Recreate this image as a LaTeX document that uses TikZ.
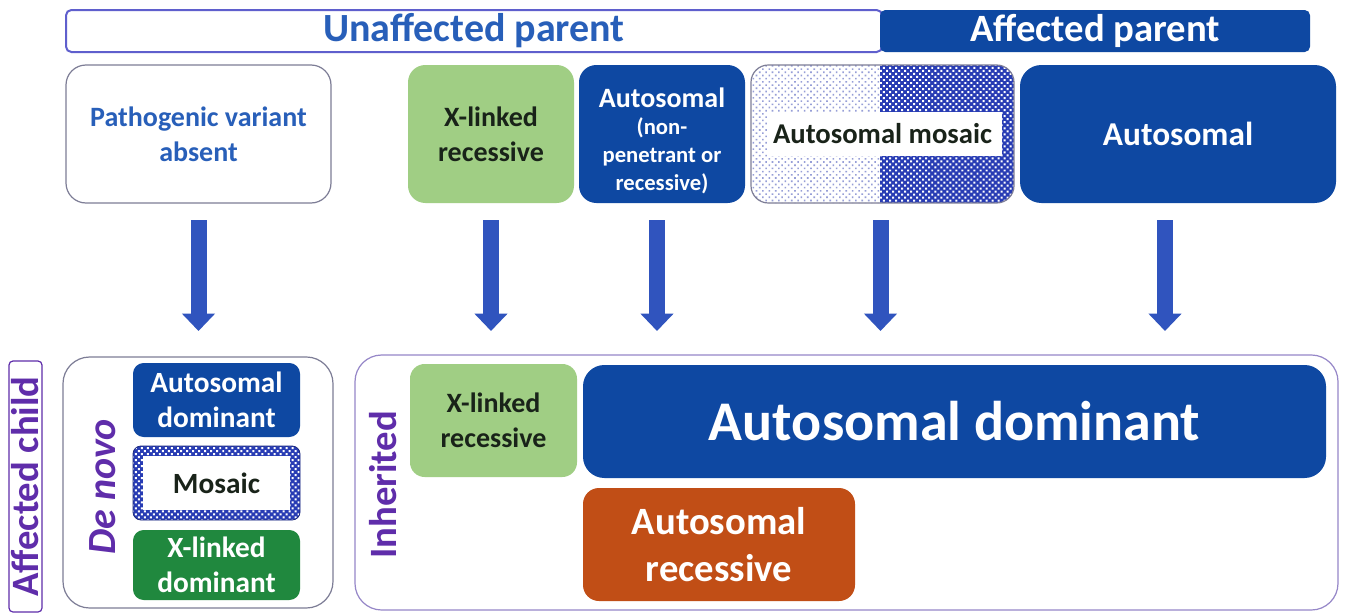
\documentclass[tikz,border=0pt]{standalone}
\usepackage{fontspec}
\setmainfont{Carlito}
\usetikzlibrary{arrows.meta,patterns,patterns.meta}
\definecolor{dblue}{RGB}{14,72,162}
\definecolor{lgreen}{RGB}{160,206,132}
\definecolor{dgreen}{RGB}{32,136,62}
\definecolor{orng}{RGB}{193,78,22}
\definecolor{hdrline}{RGB}{95,95,205}
\definecolor{hdrtext}{RGB}{40,95,185}
\definecolor{purp}{RGB}{95,45,170}
\definecolor{arrblue}{RGB}{48,84,190}
\definecolor{grayline}{RGB}{125,125,150}
\definecolor{inhline}{RGB}{150,135,200}
\definecolor{mosblue}{RGB}{40,60,180}
\definecolor{mosdot}{RGB}{150,158,215}
\definecolor{darktext}{RGB}{25,35,25}
\newcommand\fsz[2]{\fontsize{#1pt}{#2pt}\selectfont\bfseries}
\newcommand\mybox[7]{\node[#6, minimum width={(#4-#2)*0.75pt}, minimum height={(#5-#3)*0.75pt}] (#1) at ({(#2+#4)/2},{(#3+#5)/2}) {#7};}
\tikzset{
  base/.style={inner sep=0pt, outer sep=0pt, align=center},
  hdrbox/.style={base, draw=hdrline, line width=1.5pt, rounded corners=4pt, fill=white, text=hdrtext, font=\fsz{30}{36}},
  hdrfill/.style={base, fill=dblue, rounded corners=4pt, text=white, font=\fsz{29}{35}},
  whitebox/.style={base, draw=grayline, line width=0.9pt, rounded corners=15pt, fill=white},
  greenbox/.style={base, fill=lgreen, rounded corners=13pt, text=darktext, font=\fsz{21}{26}},
  bluebox/.style={base, fill=dblue, rounded corners=13pt, text=white},
  dgreenbox/.style={base, fill=dgreen, rounded corners=8pt, text=white, font=\fsz{22}{26}},
  orangebox/.style={base, fill=orng, rounded corners=12pt, text=white, font=\fsz{29}{35}},
  container/.style={base, draw=#1, line width=0.9pt, rounded corners=20pt},
  sidelabel/.style={base, rotate=90, text=purp, font=\fsz{29}{35}},
  bigarrow/.style={draw=arrblue, line width=12pt, -{Triangle[width=24pt,length=13pt]}},
  lightdots/.style={pattern={Dots[radius=0.85pt, distance=3.4pt, angle=45]}, pattern color=mosdot},
  whitedots/.style={pattern={Dots[radius=1.05pt, distance=3.2pt, angle=45]}, pattern color=white}
}
\begin{document}
\begin{tikzpicture}[x=0.75pt,y=-0.75pt]
\fill[white] (0,0) rectangle (1346,614);
\useasboundingbox (0,0) rectangle (1346,614);

% header bar
\mybox{unaff}{66}{10}{882}{52}{hdrbox}{Unaffected parent}
\mybox{aff}{880}{10}{1310}{52}{hdrfill}{Affected parent}

% row of parent boxes
\mybox{path}{66}{65}{331}{203}{whitebox, text=hdrtext, font=\fsz{21}{26}}{Pathogenic variant\\absent}
\mybox{xlr}{408}{65}{574}{203}{greenbox}{X-linked\\recessive}
\mybox{anp}{579}{65}{745}{203}{bluebox}{}
\node[base, text=white, font=\fsz{17}{21}] (anptxt) at ([yshift=-7*0.75pt]anp.center) {{\fsz{21}{26}Autosomal}\\[-1pt](non-\\penetrant or\\recessive)};

% mosaic parent box: patterned background
\begin{scope}
\clip[rounded corners=13pt] (751,65) rectangle (1014,203);
\fill[white] (751,65) rectangle (880,203);
\fill[lightdots] (751,65) rectangle (880,203);
\fill[mosblue] (880,65) rectangle (1014,203);
\fill[whitedots] (880,65) rectangle (1014,203);
\fill[white] (768,112) rectangle (1002,156);
\end{scope}
\mybox{amos}{751}{65}{1014}{203}{base, draw=grayline, line width=0.9pt, rounded corners=13pt, text=darktext, font=\fsz{21.5}{26}}{Autosomal mosaic}
\mybox{auto}{1020}{65}{1336}{203}{bluebox, rounded corners=16pt, font=\fsz{25}{30}}{Autosomal}

% affected child
\mybox{child}{9}{361}{42}{612}{base, draw=purp, line width=0.9pt, rounded corners=3pt}{}
\node[sidelabel] (childlbl) at (child.center) {Affected child};

% de novo container
\mybox{denovo}{63}{357}{333}{608}{container=grayline}{}
\node[sidelabel, font=\fsz{30}{36}\itshape] (dnlbl) at (103,487) {De novo};
\mybox{dnad}{133}{363}{300}{437}{bluebox, rounded corners=8pt, font=\fsz{22}{26}}{Autosomal\\dominant}
\fill[mosblue, rounded corners=6pt] (133,446) rectangle (300,520);
\fill[whitedots, rounded corners=6pt] (133,446) rectangle (300,520);
\fill[white] (143,456) rectangle (290,510);
\mybox{dnmos}{133}{446}{300}{520}{base, draw=mosblue!70!black, line width=0.6pt, rounded corners=6pt, text=darktext, font=\fsz{22}{26}}{Mosaic}
\mybox{dnxld}{133}{530}{300}{600}{dgreenbox}{X-linked\\dominant}

% inherited container
\mybox{inh}{355}{355}{1338}{610}{container=inhline}{}
\node[sidelabel] (inhlbl) at (383,485) {Inherited};
\mybox{ixlr}{410}{364}{577}{477}{greenbox, rounded corners=11pt}{X-linked\\recessive}
\mybox{iad}{583}{365}{1326}{478}{bluebox, rounded corners=16pt, font=\fsz{42}{50}}{Autosomal dominant}
\mybox{iar}{583}{488}{855}{601}{orangebox}{Autosomal\\recessive}

% arrows
\draw[bigarrow] ([yshift=-17*0.75pt]path.south) -- ([yshift=-128*0.75pt]path.south);
\draw[bigarrow] ([yshift=-17*0.75pt]xlr.south) -- ([yshift=-128*0.75pt]xlr.south);
\draw[bigarrow] ([xshift=-5*0.75pt,yshift=-17*0.75pt]anp.south) -- ([xshift=-5*0.75pt,yshift=-128*0.75pt]anp.south);
\draw[bigarrow] ([xshift=-2*0.75pt,yshift=-17*0.75pt]amos.south) -- ([xshift=-2*0.75pt,yshift=-128*0.75pt]amos.south);
\draw[bigarrow] ([xshift=-13*0.75pt,yshift=-17*0.75pt]auto.south) -- ([xshift=-13*0.75pt,yshift=-128*0.75pt]auto.south);
\end{tikzpicture}
\end{document}
